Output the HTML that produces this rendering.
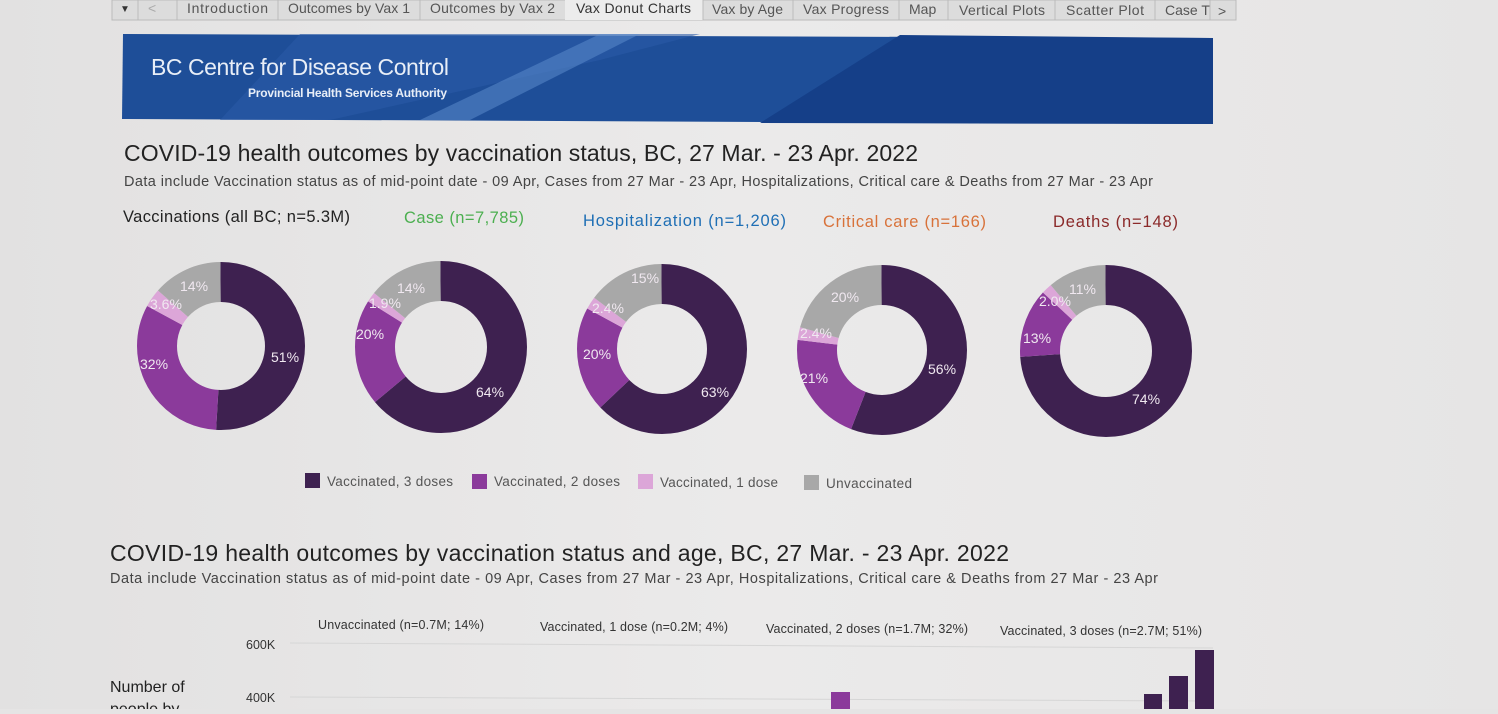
<!DOCTYPE html>
<html><head><meta charset="utf-8"><style>
body{margin:0;width:1498px;height:709px;overflow:hidden;background:#e5e4e4;font-family:"Liberation Sans",sans-serif}
</style></head><body>
<svg width="1498" height="709" xmlns="http://www.w3.org/2000/svg" font-family="Liberation Sans, sans-serif">
<defs><linearGradient id="bg" x1="0" x2="1"><stop offset="0" stop-color="#e2e1e1"/><stop offset="0.5" stop-color="#ebeaea"/><stop offset="1" stop-color="#e6e5e5"/></linearGradient></defs>
<rect width="1498" height="709" fill="url(#bg)"/>
<!-- tabs -->
<rect x="112" y="0" width="1124" height="20" fill="#dcdcdc" stroke="#bbb"/>
<rect x="565" y="0" width="138" height="20" fill="#ececec"/>
<g font-size="14" fill="#555">
<text x="120" y="12" font-size="10" fill="#333">▼</text><text x="148" y="13" fill="#aaa">&lt;</text>
<text x="187" y="13" textLength="81">Introduction</text><text x="288" y="13" textLength="122">Outcomes by Vax 1</text><text x="430" y="13" textLength="125">Outcomes by Vax 2</text>
<text x="576" y="13" fill="#333" textLength="115">Vax Donut Charts</text><text x="712" y="14" textLength="71">Vax by Age</text><text x="803" y="14" textLength="86">Vax Progress</text>
<text x="909" y="14">Map</text><text x="959" y="15" textLength="86">Vertical Plots</text><text x="1066" y="15" textLength="78">Scatter Plot</text><text x="1165" y="15">Case T</text><text x="1218" y="16">&gt;</text>
</g>
<g stroke="#bbb"><line x1="138" y1="0" x2="138" y2="20"/><line x1="177" y1="0" x2="177" y2="20"/><line x1="278" y1="0" x2="278" y2="20"/><line x1="420" y1="0" x2="420" y2="20"/><line x1="703" y1="0" x2="703" y2="20"/><line x1="793" y1="0" x2="793" y2="20"/><line x1="899" y1="0" x2="899" y2="20"/><line x1="948" y1="0" x2="948" y2="20"/><line x1="1055" y1="0" x2="1055" y2="20"/><line x1="1155" y1="0" x2="1155" y2="20"/><line x1="1210" y1="0" x2="1210" y2="20"/></g>
<!-- banner -->
<polygon points="123,34 1213,38 1213,124 122,119" fill="#1e4e98"/>
<polygon points="300,34 700,34 600,60 330,120 220,120" fill="#2a5aa6" opacity="0.6"/>
<polygon points="900,35 1213,38 1213,124 760,123" fill="#153f88"/>
<polygon points="420,120 470,120 640,34 600,34" fill="#5f8fd0" opacity="0.5"/>
<text x="151" y="75" font-size="23" fill="#e8eef7" textLength="298">BC Centre for Disease Control</text>
<text x="248" y="97" font-size="12" font-weight="bold" fill="#e8eef7" textLength="199">Provincial Health Services Authority</text>
<!-- titles -->
<text x="124" y="161" font-size="23" fill="#222" textLength="794">COVID-19 health outcomes by vaccination status, BC,  27 Mar. - 23 Apr. 2022</text>
<text x="124" y="186" font-size="14.5" fill="#444" textLength="1029">Data include Vaccination status as of mid-point date - 09 Apr, Cases  from  27 Mar - 23 Apr, Hospitalizations, Critical care &amp; Deaths from 27 Mar - 23 Apr</text>
<text x="123" y="222" font-size="16.5" fill="#222" textLength="227">Vaccinations (all BC; n=5.3M)</text>
<text x="404" y="223" font-size="16.5" fill="#4caf50" textLength="120">Case (n=7,785)</text>
<text x="583" y="226" font-size="16.5" fill="#1f6fb5" textLength="203">Hospitalization (n=1,206)</text>
<text x="823" y="227" font-size="16.5" fill="#d8723a" textLength="163">Critical care (n=166)</text>
<text x="1053" y="227" font-size="16.5" fill="#8b2a2a" textLength="125">Deaths (n=148)</text>
<!-- donuts -->
<g fill="none" stroke-width="40">
<g transform="translate(221,346) rotate(-90)"><circle r="64" pathLength="100" stroke="#3e2150" stroke-dasharray="51 49"/><circle r="64" pathLength="100" stroke="#8b3a9b" stroke-dasharray="0 51 32 17"/><circle r="64" pathLength="100" stroke="#dca6d8" stroke-dasharray="0 83 3.6 13.4"/><circle r="64" pathLength="100" stroke="#a8a8a8" stroke-dasharray="0 86.6 13.4 0"/></g>
<g transform="translate(441,347) rotate(-90)"><circle r="66" pathLength="100" stroke="#3e2150" stroke-dasharray="64 36"/><circle r="66" pathLength="100" stroke="#8b3a9b" stroke-dasharray="0 64 20 16"/><circle r="66" pathLength="100" stroke="#dca6d8" stroke-dasharray="0 84 1.9 14.1"/><circle r="66" pathLength="100" stroke="#a8a8a8" stroke-dasharray="0 85.9 14.1 0"/></g>
<g transform="translate(662,349) rotate(-90)"><circle r="65" pathLength="100" stroke="#3e2150" stroke-dasharray="63 37"/><circle r="65" pathLength="100" stroke="#8b3a9b" stroke-dasharray="0 63 20 17"/><circle r="65" pathLength="100" stroke="#dca6d8" stroke-dasharray="0 83 2.4 14.6"/><circle r="65" pathLength="100" stroke="#a8a8a8" stroke-dasharray="0 85.4 14.6 0"/></g>
<g transform="translate(882,350) rotate(-90)"><circle r="65" pathLength="100" stroke="#3e2150" stroke-dasharray="56 44"/><circle r="65" pathLength="100" stroke="#8b3a9b" stroke-dasharray="0 56 21 23"/><circle r="65" pathLength="100" stroke="#dca6d8" stroke-dasharray="0 77 2.4 20.6"/><circle r="65" pathLength="100" stroke="#a8a8a8" stroke-dasharray="0 79.4 20.6 0"/></g>
<g transform="translate(1106,351) rotate(-90)"><circle r="66" pathLength="100" stroke="#3e2150" stroke-dasharray="74 26"/><circle r="66" pathLength="100" stroke="#8b3a9b" stroke-dasharray="0 74 13 13"/><circle r="66" pathLength="100" stroke="#dca6d8" stroke-dasharray="0 87 2 11"/><circle r="66" pathLength="100" stroke="#a8a8a8" stroke-dasharray="0 89 11 0"/></g>
</g>
<g font-size="14" fill="#f0e8f0">
<text x="180" y="291">14%</text><text x="150" y="309">3.6%</text><text x="140" y="369">32%</text><text x="271" y="362">51%</text>
<text x="397" y="293">14%</text><text x="369" y="308">1.9%</text><text x="356" y="339">20%</text><text x="476" y="397">64%</text>
<text x="631" y="283">15%</text><text x="592" y="313">2.4%</text><text x="583" y="359">20%</text><text x="701" y="397">63%</text>
<text x="831" y="302">20%</text><text x="800" y="338">2.4%</text><text x="800" y="383">21%</text><text x="928" y="374">56%</text>
<text x="1069" y="294">11%</text><text x="1039" y="306">2.0%</text><text x="1023" y="343">13%</text><text x="1132" y="404">74%</text>
</g>
<!-- legend -->
<g font-size="13.5" fill="#555">
<rect x="305" y="473" width="15" height="15" fill="#3e2150"/><text x="327" y="486" textLength="126">Vaccinated, 3 doses</text>
<rect x="472" y="474" width="15" height="15" fill="#8b3a9b"/><text x="494" y="486" textLength="126">Vaccinated, 2 doses</text>
<rect x="638" y="474" width="15" height="15" fill="#dca6d8"/><text x="660" y="487" textLength="118">Vaccinated, 1 dose</text>
<rect x="804" y="475" width="15" height="15" fill="#a8a8a8"/><text x="826" y="488" textLength="86">Unvaccinated</text>
</g>
<!-- second section -->
<text x="110" y="561" font-size="23" fill="#222" textLength="899">COVID-19 health outcomes by vaccination status and age, BC,  27 Mar. - 23 Apr. 2022</text>
<text x="110" y="583" font-size="14.5" fill="#444" textLength="1048">Data include Vaccination status as of mid-point date - 09 Apr, Cases  from  27 Mar - 23 Apr, Hospitalizations, Critical care &amp; Deaths from 27 Mar - 23 Apr</text>
<g font-size="12.5" fill="#333">
<text x="318" y="629" textLength="166">Unvaccinated (n=0.7M; 14%)</text><text x="540" y="631" textLength="188">Vaccinated, 1 dose (n=0.2M; 4%)</text>
<text x="766" y="633" textLength="202">Vaccinated, 2 doses (n=1.7M; 32%)</text><text x="1000" y="635" textLength="202">Vaccinated, 3 doses (n=2.7M; 51%)</text>
<text x="246" y="649">600K</text><text x="246" y="702">400K</text>
</g>
<text x="110" y="692" font-size="16" fill="#222">Number of</text>
<text x="110" y="714" font-size="16" fill="#222">people by</text>
<g stroke="#d6d6d6"><line x1="290" y1="643" x2="1213" y2="648"/><line x1="290" y1="697" x2="1213" y2="701"/></g>
<rect x="831" y="692" width="19" height="20" fill="#8b3a9b"/>
<rect x="1144" y="694" width="18" height="20" fill="#3e2150"/>
<rect x="1169" y="676" width="19" height="40" fill="#3e2150"/>
<rect x="1195" y="650" width="19" height="62" fill="#3e2150"/>
</svg>
</body></html>
